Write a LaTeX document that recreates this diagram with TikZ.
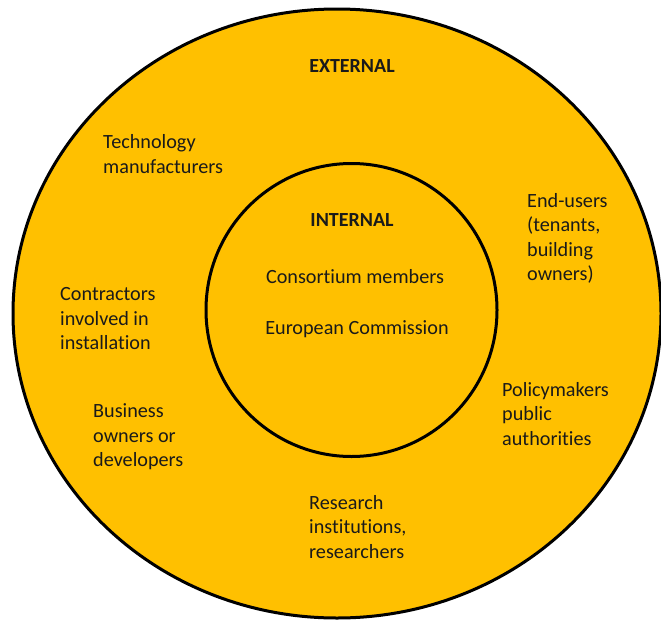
\documentclass[tikz,border=0pt]{standalone}
\usepackage{fontspec}
\setmainfont[Ligatures=NoCommon]{Carlito}
\usetikzlibrary{shapes.geometric}

\definecolor{ringgold}{HTML}{FFC000}
\definecolor{inktext}{HTML}{1A1A1A}

\begin{document}
\begin{tikzpicture}[x=1pt, y=-1pt, text=inktext,
    ring/.style={ellipse, draw=black, line width=3pt, fill=ringgold, inner sep=0pt},
    group/.style={align=left, anchor=west, inner sep=0pt},
    title/.style={font=\fontsize{20}{24.5}\selectfont\bfseries, inner sep=0pt}]
    \useasboundingbox (0,0) rectangle (661,621);
    \tikzstyle{every node} = [font=\fontsize{20.2}{24.5}\selectfont]

    % the two stakeholder rings
    \node (outer) at (337, 313.5) [ring, minimum width=648, minimum height=609] {};
    \node (inner) at (351.5, 310) [ring, minimum width=291, minimum height=293] {};

    \node (ext) at (352, 66) [title] {EXTERNAL};
    \node (int) at (352, 220) [title] {INTERNAL};

    % inside
    \node (cons) at (355, 277) [inner sep=0pt] {Consortium members};
    \node (ec) at (357, 329) [inner sep=0pt] {European Commission};

    % outside, going round
    \node (tech) at (103, 154) [group] {Technology \\ manufacturers};
    \node (users) at (527, 238.5) [group] {End-users \\ (tenants, \\ building \\ owners)};
    \node (contr) at (60, 319) [group] {Contractors \\ involved in \\ installation};
    \node (policy) at (502, 414) [group] {Policymakers \\ public \\ authorities};
    \node (biz) at (93, 437) [group] {Business \\ owners or \\ developers};
    \node (res) at (309, 527) [group] {Research \\ institutions, \\ researchers};
\end{tikzpicture}
\end{document}
